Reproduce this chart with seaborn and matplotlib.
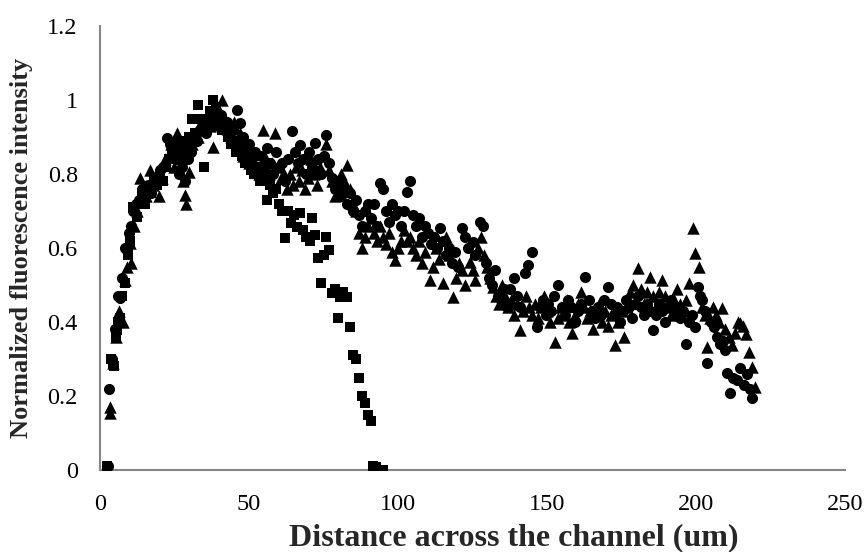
import matplotlib
matplotlib.use("Agg")
import matplotlib.pyplot as plt
import pandas as pd
import seaborn as sns

# Profile 1 (circles)
circle_x = [2.6, 3.0, 4.0, 5.0, 6.0, 6.7, 7.5, 8.3, 9.0, 9.6, 10.3, 11.0, 12.0, 13.0, 14.0,
            15.0, 16.0, 17.0, 18.0, 19.0, 20.0, 21.0, 22.5, 23.5, 24.5, 25.5, 26.5, 27.5, 28.5,
            29.5, 30.5, 31.5, 32.5, 33.5, 34.5, 35.5, 36.5, 37.5, 38.5, 39.5, 40.5, 41.5, 42.5,
            43.5, 44.5, 45.5, 46.0, 47.0, 48.0, 49.0, 50.0, 51.0, 52.0, 53.0, 54.0, 55.0, 56.0,
            57.0, 58.0, 59.0, 60.0, 61.0, 62.0, 63.0, 64.4, 65.5, 66.5, 67.0, 68.0, 69.0, 70.0,
            71.0, 72.0, 73.0, 74.0, 75.0, 76.0, 77.0, 78.0, 79.0, 80.0, 81.0, 82.0, 83.0, 84.0,
            85.0, 86.0, 87.0, 88.0, 89.0, 90.0, 91.0, 92.0, 93.0, 94.0, 95.0, 96.0, 97.0, 98.0,
            99.0, 100.0, 101.0, 102.0, 103.0, 104.0, 105.0, 106.0, 107.0, 108.0, 109.0, 110.0,
            111.0, 112.0, 113.0, 114.0, 115.0, 116.0, 117.0, 118.0, 119.0, 120.0, 121.5, 122.5,
            123.5, 125.0, 126.0, 127.5, 128.5, 129.5, 130.5, 131.5, 132.5, 133.5, 134.5, 135.5,
            136.5, 137.6, 139.0, 140.0, 141.0, 142.6, 143.6, 145.0, 146.6, 147.5, 148.5, 149.5,
            150.5, 151.5, 152.5, 153.7, 155.0, 156.0, 157.0, 158.0, 159.5, 160.5, 161.5, 162.8,
            164.0, 165.0, 166.0, 167.0, 168.0, 169.0, 170.5, 171.5, 172.5, 173.5, 174.5, 175.5,
            176.5, 177.5, 178.5, 179.5, 180.5, 181.5, 182.5, 183.5, 184.5, 185.6, 186.5, 187.5,
            188.5, 189.5, 190.5, 191.5, 192.5, 193.5, 194.5, 195.5, 196.6, 197.5, 198.5, 199.7,
            200.7, 201.5, 202.0, 203.0, 203.7, 205.0, 206.0, 207.0, 208.0, 209.0, 209.7, 210.4,
            211.4, 212.5, 213.8, 214.8, 216.0, 217.0, 218.0, 218.8]
circle_y = [0.01, 0.22, 0.30, 0.38, 0.47, 0.465, 0.52, 0.60, 0.595, 0.64, 0.66, 0.70, 0.72, 0.73, 0.76,
            0.74, 0.77, 0.75, 0.79, 0.78, 0.81, 0.82, 0.897, 0.88, 0.86, 0.84, 0.80, 0.82, 0.78,
            0.84, 0.86, 0.90, 0.89, 0.92, 0.93, 0.91, 0.95, 0.94, 0.97, 0.93, 0.96, 0.92, 0.94,
            0.90, 0.92, 0.89, 0.973, 0.937, 0.90, 0.86, 0.88, 0.84, 0.86, 0.82, 0.85, 0.81, 0.87,
            0.83, 0.80, 0.86, 0.82, 0.83, 0.78, 0.84, 0.915, 0.86, 0.83, 0.878, 0.84, 0.80, 0.86,
            0.82, 0.883, 0.84, 0.80, 0.85, 0.905, 0.83, 0.79, 0.76, 0.78, 0.74, 0.76, 0.72, 0.75,
            0.70, 0.73, 0.69, 0.66, 0.70, 0.72, 0.68, 0.72, 0.66, 0.775, 0.76, 0.70, 0.67, 0.72,
            0.69, 0.70, 0.66, 0.70, 0.752, 0.78, 0.69, 0.66, 0.68, 0.63, 0.66, 0.64,
            0.61, 0.63, 0.60, 0.654, 0.62, 0.58, 0.60, 0.56, 0.59, 0.55, 0.654, 0.63,
            0.60, 0.617, 0.58, 0.67, 0.66, 0.56, 0.52, 0.50, 0.54, 0.47, 0.46, 0.49,
            0.44, 0.49, 0.519, 0.47, 0.44, 0.532, 0.554, 0.59, 0.386, 0.44, 0.46, 0.42,
            0.45, 0.43, 0.47, 0.50, 0.44, 0.42, 0.46, 0.44, 0.40, 0.43, 0.45, 0.522,
            0.46, 0.43, 0.41, 0.44, 0.42, 0.46, 0.495, 0.45, 0.42, 0.44, 0.40, 0.43,
            0.46, 0.44, 0.41, 0.45, 0.47, 0.44, 0.42, 0.45, 0.43, 0.378, 0.42, 0.45,
            0.43, 0.40, 0.44, 0.46, 0.42, 0.44, 0.41, 0.43, 0.34, 0.40, 0.42, 0.386,
            0.495, 0.47, 0.46, 0.43, 0.289, 0.40, 0.387, 0.36, 0.34, 0.35, 0.324, 0.262,
            0.208, 0.25, 0.243, 0.276, 0.23, 0.26, 0.22, 0.195]

# Profile 2 (triangles)
tri_x = [2.3, 3.2, 3.5, 4.5, 5.5, 6.5, 7.7, 8.4, 9.2, 10.0, 10.4, 11.5, 12.5, 13.4, 14.5, 15.5,
         16.8, 17.8, 18.8, 19.8, 20.8, 21.8, 22.8, 23.8, 24.8, 26.0, 27.0, 28.0, 28.5, 29.0,
         30.0, 31.0, 32.0, 33.0, 34.0, 35.0, 36.0, 37.0, 38.0, 39.0, 40.0, 41.0, 42.0, 43.0,
         44.0, 45.0, 46.0, 47.0, 48.0, 49.0, 50.0, 51.3, 52.3, 53.3, 54.7, 55.7, 56.7, 57.7,
         58.7, 59.7, 60.7, 61.7, 62.7, 63.7, 64.7, 65.7, 66.7, 67.7, 68.7, 69.7, 70.7, 71.7,
         72.7, 73.7, 74.7, 76.0, 77.0, 78.0, 79.0, 80.0, 81.0, 82.0, 83.0, 84.0, 85.0, 86.0,
         87.0, 88.0, 89.0, 90.0, 91.0, 92.0, 93.0, 94.0, 95.0, 96.0, 97.0, 98.0, 99.0, 100.0,
         101.0, 102.0, 103.0, 104.0, 105.0, 106.0, 107.0, 108.0, 109.0, 110.7, 111.7, 112.7,
         113.7, 115.0, 116.0, 117.0, 118.5, 119.5, 120.5, 121.5, 122.5, 124.0, 125.0, 126.0,
         127.0, 128.0, 129.0, 130.0, 131.0, 132.0, 133.0, 134.0, 135.0, 136.0, 137.0, 138.0,
         139.0, 140.0, 141.0, 142.0, 143.0, 144.0, 145.0, 146.0, 147.0, 148.0, 149.0, 150.0,
         151.0, 152.7, 153.7, 154.7, 155.7, 156.7, 157.5, 158.4, 159.5, 160.5, 161.5, 162.5,
         163.5, 164.5, 165.5, 166.5, 167.5, 168.5, 169.5, 170.5, 171.5, 172.8, 173.8, 175.0,
         176.0, 177.0, 178.0, 179.0, 180.5, 181.5, 182.5, 183.5, 184.6, 185.6, 186.6, 187.6,
         188.6, 189.6, 190.6, 191.6, 192.6, 193.6, 194.6, 195.6, 196.6, 197.7, 199.0, 199.7,
         201.0, 202.0, 203.0, 203.7, 204.7, 205.7, 206.7, 207.7, 208.7, 209.7, 211.0, 212.0,
         213.0, 214.0, 214.8, 215.8, 216.8, 217.8, 218.8, 219.8]
tri_y = [0.008, 0.17, 0.154, 0.29, 0.36, 0.43, 0.40, 0.513, 0.55, 0.613, 0.56, 0.66, 0.70, 0.79, 0.76, 0.74,
         0.81, 0.77, 0.80, 0.74, 0.79, 0.84, 0.85, 0.88, 0.82, 0.91, 0.85, 0.78, 0.743, 0.72,
         0.805, 0.88, 0.91, 0.90, 0.94, 0.92, 0.96, 0.93, 0.873, 0.99, 0.96, 1.00, 0.95, 0.93,
         0.90, 0.94, 0.88, 0.91, 0.85, 0.88, 0.83, 0.857, 0.82, 0.80, 0.92, 0.84, 0.80, 0.83,
         0.91, 0.82, 0.79, 0.80, 0.76, 0.80, 0.77, 0.82, 0.78, 0.81, 0.76, 0.79, 0.84, 0.80,
         0.77, 0.82, 0.85, 0.88, 0.81, 0.78, 0.74, 0.77, 0.80, 0.78, 0.824, 0.76, 0.72, 0.70,
         0.64, 0.60, 0.63, 0.66, 0.68, 0.64, 0.62, 0.66, 0.63, 0.61, 0.64, 0.59, 0.568, 0.60,
         0.62, 0.65, 0.62, 0.63, 0.60, 0.58, 0.62, 0.56, 0.59, 0.513, 0.55, 0.60,
         0.57, 0.505, 0.63, 0.58, 0.468, 0.52, 0.56, 0.54, 0.50, 0.563, 0.54, 0.513,
         0.60, 0.63, 0.58, 0.55, 0.52, 0.495, 0.47, 0.45, 0.50, 0.47, 0.44, 0.46,
         0.42, 0.45, 0.378, 0.43, 0.47, 0.44, 0.42, 0.45, 0.41, 0.44, 0.47, 0.43,
         0.40, 0.346, 0.41, 0.44, 0.42, 0.46, 0.40, 0.37, 0.42, 0.45, 0.48, 0.44,
         0.41, 0.43, 0.38, 0.42, 0.45, 0.40, 0.43, 0.39, 0.42, 0.338, 0.40, 0.43,
         0.36, 0.44, 0.48, 0.50, 0.546, 0.49, 0.45, 0.48, 0.522, 0.47, 0.44, 0.48,
         0.513, 0.47, 0.44, 0.42, 0.46, 0.49, 0.45, 0.43, 0.46, 0.505, 0.654, 0.586,
         0.549, 0.44, 0.42, 0.333, 0.41, 0.44, 0.42, 0.40, 0.438, 0.38, 0.36, 0.338,
         0.37, 0.40, 0.397, 0.39, 0.367, 0.32, 0.279, 0.225]

# Profile 3 (squares)
sq_x = [2.4, 3.6, 4.4, 4.7, 5.3, 5.7, 6.0, 6.8, 7.5, 8.4, 9.3, 10.2, 11.0, 12.4, 13.3, 14.2,
        15.1, 16.0, 17.0, 18.0, 19.0, 20.0, 21.0, 22.0, 23.0, 24.0, 25.0, 26.0, 27.0, 28.0,
        29.0, 30.0, 31.0, 32.0, 33.0, 34.0, 35.0, 35.8, 36.8, 37.8, 38.8, 39.8, 40.8, 41.8,
        42.8, 43.8, 44.8, 45.8, 46.8, 47.8, 48.8, 49.8, 50.8, 51.8, 52.8, 53.8, 54.8, 56.0,
        57.0, 58.0, 59.0, 60.0, 61.0, 62.0, 63.0, 64.0, 65.0, 66.0, 67.0, 68.0, 69.0, 70.5,
        71.0, 72.0, 73.0, 74.0, 75.0, 76.0, 77.0, 78.0, 79.0, 80.0, 80.5, 81.5, 83.0, 84.0,
        85.0, 86.0, 87.0, 88.0, 89.0, 90.0, 91.0, 91.6, 92.5, 95.0]
sq_y = [0.01, 0.30, 0.29, 0.28, 0.36, 0.378, 0.40, 0.41, 0.47, 0.505, 0.58, 0.62, 0.71, 0.685, 0.72, 0.74,
        0.72, 0.76, 0.75, 0.78, 0.77, 0.80, 0.78, 0.82, 0.84, 0.86, 0.88, 0.87, 0.89, 0.86,
        0.88, 0.90, 0.95, 0.91, 0.986, 0.95, 0.82, 0.94, 0.97, 1.00, 0.98, 0.95, 0.92, 0.93,
        0.90, 0.88, 0.89, 0.86, 0.87, 0.85, 0.83, 0.84, 0.81, 0.80, 0.82, 0.78, 0.79, 0.73,
        0.77, 0.75, 0.76, 0.72, 0.70, 0.627, 0.70, 0.667, 0.69, 0.657, 0.695, 0.65, 0.63, 0.62,
        0.68, 0.635, 0.573, 0.505, 0.58, 0.63, 0.595, 0.478, 0.49, 0.41, 0.468, 0.48, 0.468, 0.387,
        0.31, 0.30, 0.25, 0.20, 0.18, 0.15, 0.133, 0.01, 0.008, 0.0]

x_ticks = [0, 50, 100, 150, 200, 250]
y_ticks = [0, 0.2, 0.4, 0.6, 0.8, 1.0, 1.2]
y_tick_labels = ["0", "0.2", "0.4", "0.6", "0.8", "1", "1.2"]

sns.set_style("white")
plt.rcParams["font.family"] = ["Liberation Serif", "DejaVu Serif"]

fig = plt.figure(figsize=(8.66, 5.52), dpi=100)
ax = fig.add_axes([100 / 866, 82 / 552, 745 / 866, 444 / 552])

circles = pd.DataFrame({"x": circle_x, "y": circle_y})
triangles = pd.DataFrame({"x": tri_x, "y": tri_y})
squares = pd.DataFrame({"x": sq_x, "y": sq_y})

sns.scatterplot(data=triangles, x="x", y="y", marker="^", s=80, color="black",
                linewidth=0, ax=ax, zorder=3)
sns.scatterplot(data=circles, x="x", y="y", marker="o", s=64, color="black",
                linewidth=0, ax=ax, zorder=4)
sns.scatterplot(data=squares, x="x", y="y", marker="s", s=48, color="black",
                linewidth=0, ax=ax, zorder=5)

ax.set_xlim(0, 250)
ax.set_ylim(0, 1.2)
ax.set_xticks(x_ticks)
ax.set_xticklabels([str(t) for t in x_ticks])
ax.set_yticks(y_ticks)
ax.set_yticklabels(y_tick_labels)
ax.tick_params(axis="both", length=0, labelsize=17.5, colors="black")
ax.tick_params(axis="x", pad=17)
ax.tick_params(axis="y", pad=16)

for side in ("top", "right"):
    ax.spines[side].set_visible(False)
for side in ("left", "bottom"):
    ax.spines[side].set_color("#868686")
    ax.spines[side].set_linewidth(1.5)
    ax.spines[side].set_zorder(2)

ax.set_xlabel("")
ax.set_ylabel("")
ax.grid(False)

# Axis titles placed in figure pixels
fig.text(514 / 866, 1 - 538 / 552, "Distance across the channel (um)",
         fontsize=23, fontweight="bold", ha="center", va="center")
fig.text(22 / 866, 1 - 248 / 552, "Normalized fluorescence intensity",
         fontsize=19, fontweight="bold", ha="center", va="center", rotation=90)

fig.savefig("out.png", dpi=100)
